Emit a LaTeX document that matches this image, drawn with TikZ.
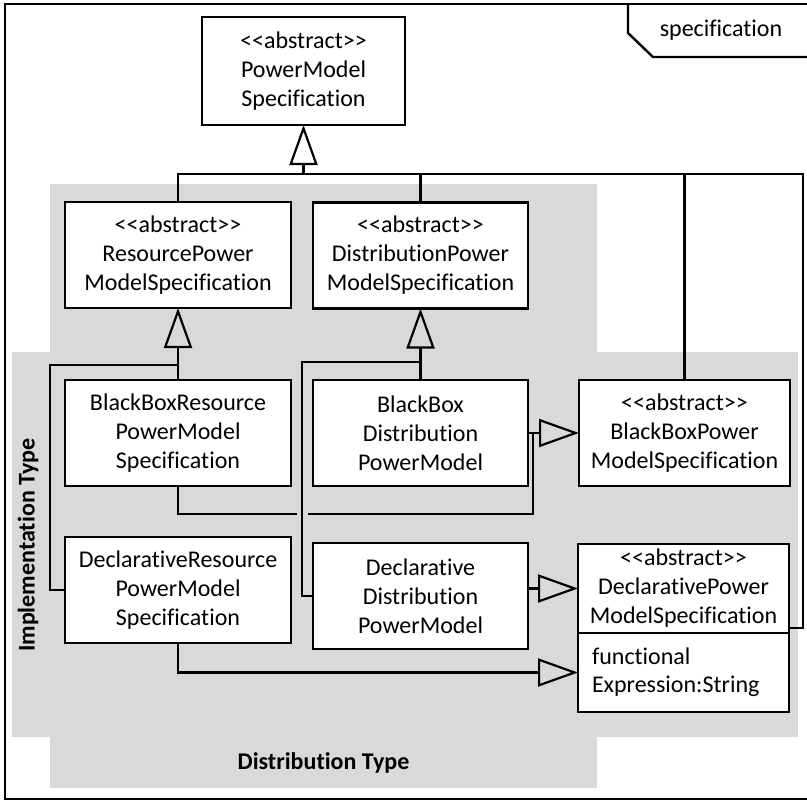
\documentclass[tikz,border=0pt]{standalone}
\usepackage{fontspec}
\setmainfont{Carlito}[Ligatures={TeXOff,CommonOff}]
\usetikzlibrary{arrows.meta}
\definecolor{bandgray}{HTML}{D9D9D9}
\tikzset{
  box/.style={draw, fill=white, line width=2.2pt, inner sep=0pt, outer sep=0pt,
              align=center, font=\fontsize{24}{29}\selectfont},
  attrbox/.style={draw, fill=white, line width=2.2pt, inner ysep=0pt, inner xsep=14pt,
              outer sep=0pt, align=left, text width=183pt, minimum height=79pt,
              font=\fontsize{24}{28}\selectfont},
  conn/.style={draw, line width=2.2pt},
  gen/.style={draw, line width=2.2pt,
              -{Triangle[open, length=40pt, width=28pt, line width=2.2pt]}},
  band/.style={fill=bandgray},
  bandlabel/.style={font=\fontsize{24}{29}\selectfont\bfseries},
}
\begin{document}
\begin{tikzpicture}[x=1pt,y=-1pt]
  \useasboundingbox (0,0) rectangle (807,801);
  \clip (0,0) rectangle (807,801);
  \fill[white] (0,0) rectangle (807,801);

  % classification bands
  \fill[band] (12,352) rectangle (798,737);
  \fill[band] (50,184) rectangle (597,788);
  \node[bandlabel, rotate=90] (impl) at (28,545) {Implementation Type};
  \node[bandlabel] (distr) at (323.5,763) {Distribution Type};

  % package frame and its tab
  \draw[line width=2.4pt] (5,4) rectangle (812,799);
  \draw[line width=2.4pt] (628,4) -- (628,33) -- (653,57) -- (812,57);
  \node[font=\fontsize{24}{29}\selectfont] (pkg) at (721,30) {specification};

  % classes
  \node[box, minimum width=203pt, minimum height=108pt] (pm) at (303.5,71)
    {<<abstract>>\\PowerModel\\Specification};
  \node[box, minimum width=226pt, minimum height=106pt] (rp) at (178,255)
    {<<abstract>>\\ResourcePower\\ModelSpecification};
  \node[box, minimum width=215pt, minimum height=106pt] (dp) at (420.5,255.5)
    {<<abstract>>\\DistributionPower\\ModelSpecification};
  \node[box, minimum width=226pt, minimum height=106pt] (bbr) at (178,433)
    {BlackBoxResource\\PowerModel\\Specification};
  \node[box, minimum width=215pt, minimum height=106pt] (bbd) at (420.5,433)
    {BlackBox\\Distribution\\PowerModel};
  \node[box, minimum width=211pt, minimum height=106pt] (bbp) at (684.5,433)
    {<<abstract>>\\BlackBoxPower\\ModelSpecification};
  \node[box, minimum width=226pt, minimum height=106pt] (dr) at (178,590)
    {DeclarativeResource\\PowerModel\\Specification};
  \node[box, minimum width=215pt, minimum height=106pt] (dd) at (420.5,596)
    {Declarative\\Distribution\\PowerModel};
  \node[box, minimum width=211pt, minimum height=89pt] (dcp) at (683.5,588.5)
    {<<abstract>>\\DeclarativePower\\ModelSpecification};
  \node[attrbox, anchor=north] (attr) at (dcp.south)
    {functional\\Expression:String};

  % junction points of the generalization trees
  \coordinate (pmj) at (303.5,174);
  \coordinate (rightrail) at (803,174);
  \coordinate (rpj) at (50,365);
  \coordinate (dpj) at (302,362);
  \coordinate (bbj) at (533,514);

  % PowerModelSpecification
  \draw[gen] (pmj) -- (pm.south);
  \draw[conn] (rp.north) |- (pmj);
  \draw[conn] (dp.north) -- (dp.north |- pmj);
  \draw[conn] (bbp.north) -- (bbp.north |- pmj);
  \draw[conn] ([yshift=5pt]dcp.south east) -| (rightrail) -- (pmj);

  % ResourcePowerModelSpecification
  \draw[gen] (bbr.north) -- (rp.south);
  \draw[conn] (dr.west) -| (rpj) -- (rpj -| bbr.north);

  % BlackBoxPowerModelSpecification
  \draw[gen] (bbd.east) -- (bbp.west);
  \draw[conn] (bbr.south) |- (bbj) -- (bbj |- bbp.west);
  \fill[band] (297,508) rectangle (308,520);

  % DistributionPowerModelSpecification
  \draw[gen] (bbd.north) -- (dp.south);
  \draw[conn] (dd.west) -| (dpj) -- (dpj -| bbd.north);

  % DeclarativePowerModelSpecification
  \draw[gen] (dd.east |- dcp.west) -- (dcp.west);
  \draw[gen] (dr.south) |- (attr.west);
\end{tikzpicture}
\end{document}
